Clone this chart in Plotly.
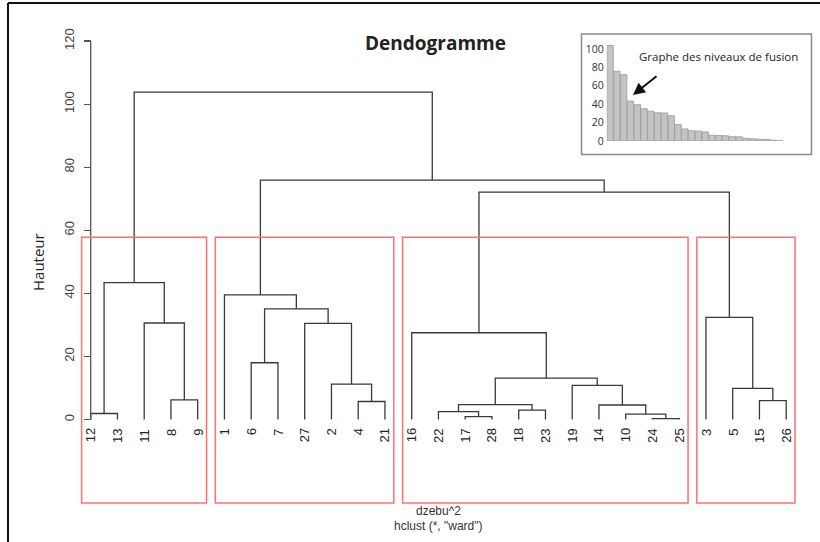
import plotly.graph_objects as go

# ---------------- data ----------------
leaf_order = [12, 13, 11, 8, 9, 1, 6, 7, 27, 2, 4, 21, 16, 22, 17, 28, 18, 23,
              19, 14, 10, 24, 25, 3, 5, 15, 26]
# R-style merge matrix (negative = leaf, positive = earlier merge, 1-based)
merge_left = [-24, -17, -10, -12, -22, -18, -14, 5, -4, -15, -8, -5, -19,
              -2, 8, -6, -16, -27, -11, -3, 16, -1, 4, 17, 22, 23]
merge_right = [-25, -28, 1, -13, 2, -23, 3, 6, -21, -26, -9, 10, 7,
               9, 13, -7, 15, 14, 11, 12, 18, 21, 19, 20, 24, 25]
merge_height = [0.3, 0.9, 1.7, 1.9, 2.5, 3.0, 4.6, 4.7, 5.7, 6.0, 6.2, 9.9, 10.8,
                11.2, 13.1, 18.0, 27.5, 30.5, 30.6, 32.4, 35.1, 39.5, 43.4,
                72.1, 75.9, 103.8]
cluster_sizes = [5, 7, 11, 4]
y_ticks = [0, 20, 40, 60, 80, 100, 120]
inset_ticks = [0, 20, 40, 60, 80, 100]

# ---------------- geometry ----------------
W, H = 820, 542
X0_PX, X_SCALE = 90.7, 26.75     # px of leaf index 1, px per leaf
Y0_PX, Y_SCALE = 419.5, 3.154    # px of height 0, px per unit
x_range = [1 - X0_PX / X_SCALE, 1 + (W - X0_PX) / X_SCALE]
y_range = [-(H - Y0_PX) / Y_SCALE, Y0_PX / Y_SCALE]
usr_bottom = -26.5

pos = {leaf: i + 1 for i, leaf in enumerate(leaf_order)}
node_x, node_h = [], []
lx, ly = [], []


def coord(c):
    if c < 0:
        return pos[-c], 0.0
    return node_x[c - 1], node_h[c - 1]


for l, r, h in zip(merge_left, merge_right, merge_height):
    x1, h1 = coord(l)
    x2, h2 = coord(r)
    lx += [x1, x1, x2, x2, None]
    ly += [h1, h, h, h2, None]
    node_x.append((x1 + x2) / 2)
    node_h.append(h)

fig = go.Figure()

LINE = "#3a3a3a"
fig.add_trace(go.Scatter(x=lx, y=ly, mode="lines",
                         line=dict(color=LINE, width=1.3),
                         hoverinfo="skip", showlegend=False))

# y axis line (R axis from 0 to 120)
fig.add_shape(type="line", x0=1, x1=1, y0=y_ticks[0], y1=y_ticks[-1],
              xref="x", yref="y", line=dict(color="#555", width=1.3))

# red rectangles (rect.hclust k=4)
sorted_h = sorted(merge_height, reverse=True)
k = len(cluster_sizes)
rect_top = (sorted_h[k - 1] + sorted_h[k - 2]) / 2
m = 0
for s in cluster_sizes:
    fig.add_shape(type="rect", x0=m + 0.66, x1=m + s + 0.33,
                  y0=usr_bottom, y1=rect_top, xref="x", yref="y",
                  line=dict(color="#ff7070", width=1.5))
    m += s

# leaf labels
for leaf in leaf_order:
    fig.add_annotation(x=pos[leaf], y=0, xref="x", yref="y", text=str(leaf),
                       textangle=-90, showarrow=False, yanchor="top",
                       xanchor="center", yshift=-7,
                       font=dict(family="Liberation Sans, Arial", size=13,
                                 color="#222"))

# inset bar chart of fusion levels
fusion_levels = sorted(merge_height, reverse=True)
fig.add_trace(go.Bar(x=list(range(1, len(fusion_levels) + 1)), y=fusion_levels,
                     marker=dict(color="#c4c4c4",
                                 line=dict(color="#9a9a9a", width=0.8)),
                     xaxis="x2", yaxis="y2", showlegend=False,
                     hoverinfo="skip"))

ix0, ix1 = 606.7, 783.3
iy0, iscale = 141.0, 0.92
inset_ymax = 110

fig.update_layout(
    width=W, height=H,
    margin=dict(l=0, r=0, t=0, b=0, pad=0, autoexpand=False),
    paper_bgcolor="white", plot_bgcolor="rgba(0,0,0,0)",
    bargap=0.05,
    xaxis=dict(range=x_range, domain=[0, 1], visible=False, fixedrange=True,
               automargin=False),
    yaxis=dict(range=y_range, domain=[0, 1], anchor="free",
               position=X0_PX / W, tickvals=y_ticks, ticks="outside",
               ticklen=7, tickcolor="#555", tickwidth=1.2, tickangle=-90,
               ticklabelstandoff=5, showline=False, showgrid=False,
               zeroline=False, automargin=False,
               tickfont=dict(family="Liberation Sans, Arial", size=13,
                             color="#444")),
    xaxis2=dict(range=[0.5, len(fusion_levels) + 0.5], automargin=False,
                domain=[ix0 / W, ix1 / W], anchor="y2", visible=False),
    yaxis2=dict(range=[0, inset_ymax], automargin=False,
                domain=[(H - iy0) / H, (H - (iy0 - inset_ymax * iscale)) / H],
                anchor="x2", tickvals=inset_ticks, showgrid=False,
                zeroline=False, showline=False, ticks="",
                ticklabelstandoff=2,
                tickfont=dict(family="Open Sans", size=10.5, color="#333")),
    showlegend=False,
)

# inset frame
fig.add_shape(type="rect", xref="paper", yref="paper",
              x0=581.5 / W, x1=811.5 / W, y0=(H - 154.5) / H, y1=(H - 34) / H,
              line=dict(color="#8a8a8a", width=1.5))
fig.add_annotation(xref="paper", yref="paper", x=637 / W, y=(H - 56) / H,
                   xanchor="left", yanchor="middle", showarrow=False,
                   text="Graphe des niveaux de fusion",
                   font=dict(family="Open Sans", size=11.5, color="#222"))
fig.add_annotation(xref="paper", yref="paper", x=633 / W, y=(H - 95) / H,
                   ax=25, ay=-20, showarrow=True, arrowhead=2, arrowsize=1.2,
                   arrowwidth=2, arrowcolor="#111", text="")

# outer frame (left and top edges)
fig.add_shape(type="line", xref="paper", yref="paper", x0=8 / W, x1=8 / W,
              y0=0, y1=(H - 3) / H, line=dict(color="#111", width=2))
fig.add_shape(type="line", xref="paper", yref="paper", x0=8 / W, x1=1,
              y0=(H - 3) / H, y1=(H - 3) / H, line=dict(color="#111", width=2))

# titles and texts
fig.add_annotation(xref="paper", yref="paper", x=435 / W, y=(H - 43) / H,
                   text="<b>Dendogramme</b>", showarrow=False,
                   xanchor="center", yanchor="middle",
                   font=dict(family="Open Sans", size=19, color="#222"))
fig.add_annotation(xref="paper", yref="paper", x=38 / W, y=(H - 262) / H,
                   text="Hauteur", textangle=-90, showarrow=False,
                   xanchor="center", yanchor="middle",
                   font=dict(family="Open Sans", size=15, color="#222"))
fig.add_annotation(xref="paper", yref="paper", x=438 / W, y=(H - 511) / H,
                   text="dzebu^2", showarrow=False, xanchor="center",
                   yanchor="middle",
                   font=dict(family="Liberation Sans, Arial", size=12,
                             color="#333"))
fig.add_annotation(xref="paper", yref="paper", x=438 / W, y=(H - 526) / H,
                   text='hclust (*, "ward")', showarrow=False,
                   xanchor="center", yanchor="middle",
                   font=dict(family="Liberation Sans, Arial", size=12,
                             color="#333"))

fig.write_html(
    "out.html",
    config={"displayModeBar": False, "staticPlot": True},
    post_script=(
        "document.documentElement.style.overflow='hidden';"
        "document.body.style.margin='0';"
        "document.body.style.overflow='hidden';"
        "var gd=document.getElementById('{plot_id}');"
        "gd.style.position='fixed';gd.style.top='0';gd.style.left='0';"
    ),
)
